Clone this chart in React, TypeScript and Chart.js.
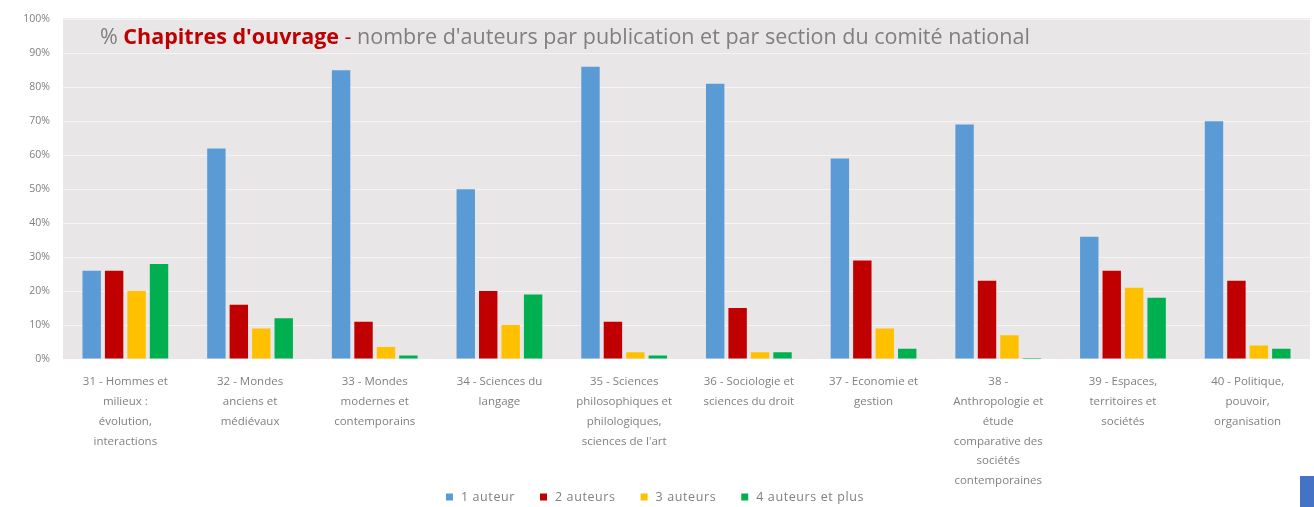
import React, { useEffect, useRef } from "react";
import { Chart, registerables } from "chart.js";

Chart.register(...registerables);

const categories: string[][] = [
  ["31 - Hommes et", "milieux :", "évolution,", "interactions"],
  ["32 - Mondes", "anciens et", "médiévaux"],
  ["33 - Mondes", "modernes et", "contemporains"],
  ["34 - Sciences du", "langage"],
  ["35 - Sciences", "philosophiques et", "philologiques,", "sciences de l'art"],
  ["36 - Sociologie et", "sciences du droit"],
  ["37 - Economie et", "gestion"],
  ["38 -", "Anthropologie et", "étude", "comparative des", "sociétés", "contemporaines"],
  ["39 - Espaces,", "territoires et", "sociétés"],
  ["40 - Politique,", "pouvoir,", "organisation"],
];

const seriesNames = ["1 auteur", "2 auteurs", "3 auteurs", "4 auteurs et plus"];
const auteur1 = [26, 62, 85, 50, 86, 81, 59, 69, 36, 70];
const auteurs2 = [26, 16, 11, 20, 11, 15, 29, 23, 26, 23];
const auteurs3 = [20, 9, 3.5, 10, 2, 2, 9, 7, 21, 4];
const auteurs4 = [28, 12, 1, 19, 1, 2, 3, 0.3, 18, 3];
const yTicks = [0, 10, 20, 30, 40, 50, 60, 70, 80, 90, 100];

const colors = ["#5B9BD5", "#C00000", "#FFC000", "#00B050"];

const titleParts = [
  { text: "% ", color: "#7F7F7F", bold: false },
  { text: "Chapitres d'ouvrage", color: "#C00000", bold: true },
  { text: " - ", color: "#C00000", bold: false },
  { text: "nombre d'auteurs par publication et par section du comité national", color: "#7F7F7F", bold: false },
];

const FAMILY = "'Open Sans', sans-serif";

const bgPlugin = {
  id: "plotBg",
  beforeDraw(chart: any) {
    const { ctx, chartArea } = chart;
    ctx.save();
    ctx.fillStyle = "#E8E6E6";
    ctx.fillRect(chartArea.left, chartArea.top - 1, chartArea.right - chartArea.left, chartArea.bottom - chartArea.top + 1);
    ctx.restore();
  },
};

const titlePlugin = {
  id: "inTitle",
  beforeDatasetsDraw(chart: any) {
    const { ctx } = chart;
    const x0 = 100;
    const targetW = 930;
    const measure = (s: number) => {
      let w = 0;
      for (const p of titleParts) {
        ctx.font = `${p.bold ? "bold " : ""}${s}px ${FAMILY}`;
        w += ctx.measureText(p.text).width;
      }
      return w;
    };
    const size = (20 * targetW) / measure(20);
    ctx.save();
    ctx.textBaseline = "middle";
    let x = x0;
    for (const p of titleParts) {
      ctx.font = `${p.bold ? "bold " : ""}${size}px ${FAMILY}`;
      ctx.fillStyle = p.color;
      ctx.fillText(p.text, x, 38);
      x += ctx.measureText(p.text).width;
    }
    ctx.restore();
  },
};

const legendPlugin = {
  id: "bottomLegend",
  afterDraw(chart: any) {
    const { ctx } = chart;
    const ds = chart.data.datasets;
    const box = 7;
    const gapBox = 8;
    const gapItem = 25;
    const cy = 497;
    ctx.save();
    ctx.font = `12.5px ${FAMILY}`;
    (ctx as any).letterSpacing = "0.6px";
    ctx.textBaseline = "middle";
    const widths = ds.map((d: any) => ctx.measureText(d.label).width);
    const total = widths.reduce((a: number, w: number) => a + box + gapBox + w, 0) + gapItem * (ds.length - 1);
    let x = 655 - total / 2;
    ds.forEach((d: any, i: number) => {
      ctx.fillStyle = d.backgroundColor;
      ctx.fillRect(x, cy - box / 2, box, box);
      x += box + gapBox;
      ctx.fillStyle = "#808080";
      ctx.fillText(d.label, x, cy);
      x += widths[i] + gapItem;
    });
    ctx.restore();
  },
};

export default function App() {
  const ref = useRef<HTMLCanvasElement | null>(null);

  useEffect(() => {
    if (!ref.current) return;
    const data = [auteur1, auteurs2, auteurs3, auteurs4];
    const chart = new Chart(ref.current, {
      type: "bar",
      data: {
        labels: categories,
        datasets: seriesNames.map((name, i) => ({
          label: name,
          data: data[i],
          backgroundColor: colors[i],
          borderWidth: 0,
          categoryPercentage: 0.72,
          barPercentage: 0.82,
        })),
      },
      options: {
        animation: false,
        responsive: false,
        layout: { padding: { top: 17, right: 4, left: 0, bottom: 0 } },
        plugins: {
          title: { display: false },
          tooltip: { enabled: false },
          legend: { display: false },
        },
        scales: {
          x: {
            grid: { display: false, drawTicks: false },
            border: { display: false },
            ticks: {
              color: "#808080",
              font: { family: FAMILY, size: 11.5, lineHeight: 1.72 },
              maxRotation: 0,
              autoSkip: false,
              padding: 13,
            },
            afterFit(scale: any) {
              scale.height = 507 - 359;
            },
          },
          y: {
            min: 0,
            max: 100,
            afterBuildTicks(scale: any) {
              scale.ticks = yTicks.map((v) => ({ value: v }));
            },
            grid: { color: "rgba(255,255,255,0.55)", drawTicks: false, lineWidth: 1 },
            border: { display: false },
            ticks: {
              color: "#808080",
              font: { family: FAMILY, size: 10.5 },
              padding: 13,
              callback: (v: any) => `${v}%`,
            },
            afterFit(scale: any) {
              scale.width = 63;
            },
          },
        },
      },
      plugins: [bgPlugin, titlePlugin, legendPlugin],
    });
    return () => chart.destroy();
  }, []);

  return (
    <div style={{ position: "fixed", left: 0, top: 0, width: 1314, height: 507, background: "#fff" }}>
      <canvas ref={ref} width={1314} height={507} />
      <div style={{ position: "absolute", left: 1300, top: 476, width: 14, height: 31, background: "#4472C4" }} />
    </div>
  );
}
